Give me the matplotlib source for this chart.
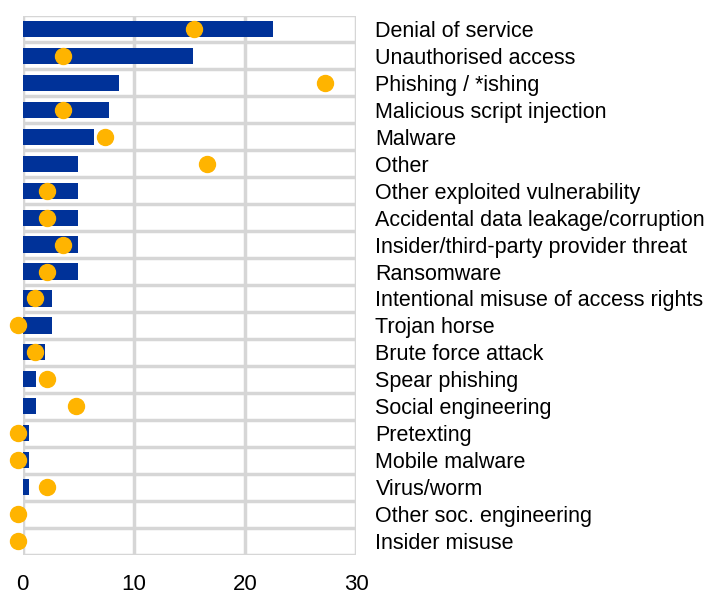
import matplotlib.pyplot as plt
import numpy as np

categories = ['Denial of service', 'Unauthorised access', 'Phishing / *ishing',
              'Malicious script injection', 'Malware', 'Other',
              'Other exploited vulnerability', 'Accidental data leakage/corruption',
              'Insider/third-party provider threat', 'Ransomware',
              'Intentional misuse of access rights', 'Trojan horse',
              'Brute force attack', 'Spear phishing', 'Social engineering',
              'Pretexting', 'Mobile malware', 'Virus/worm',
              'Other soc. engineering', 'Insider misuse']
bar_values = [22.5, 15.3, 8.65, 7.8, 6.4, 4.95, 4.95, 4.95, 4.95, 4.95,
              2.65, 2.65, 2.05, 1.2, 1.2, 0.6, 0.6, 0.6, 0.0, 0.0]
dot_values = [15.4, 3.65, 27.2, 3.65, 7.4, 16.6, 2.2, 2.2, 3.65, 2.2,
              1.08, -0.4, 1.08, 2.2, 4.8, -0.4, -0.4, 2.2, -0.4, -0.4]
x_ticks = [0, 10, 20, 30]

plt.rcParams['font.family'] = ['Liberation Sans', 'DejaVu Sans']

fig = plt.figure(figsize=(7.07, 5.96), dpi=100)
ax = fig.add_axes([22.7 / 707, 1 - 554.5 / 596, (356 - 22.7) / 707, (554.5 - 15.5) / 596])

y = np.arange(len(categories))
ax.barh(y, bar_values, height=0.6, color='#003299', zorder=3)
ax.plot(dot_values, y, 'o', color='#FFB400', markersize=11.5, zorder=4, clip_on=False)

ax.set_xlim(0, 30)
ax.set_ylim(len(categories) - 0.5, -0.5)

# cell grid
for k in range(len(categories) + 1):
    ax.axhline(k - 0.5, color='#d6d6d6', lw=2.5, zorder=1)
for xv in x_ticks:
    ax.axvline(xv, color='#d6d6d6', lw=2.5, zorder=1)

for s in ax.spines.values():
    s.set_visible(False)

ax.set_xticks(x_ticks)
ax.set_xticklabels([str(t) for t in x_ticks], fontsize=16)
ax.tick_params(axis='x', length=0, pad=14)

ax.yaxis.tick_right()
ax.set_yticks(y)
ax.set_yticklabels(categories, fontsize=15.5)
ax.tick_params(axis='y', length=0, pad=14)

fig.savefig('out.png', dpi=100)
